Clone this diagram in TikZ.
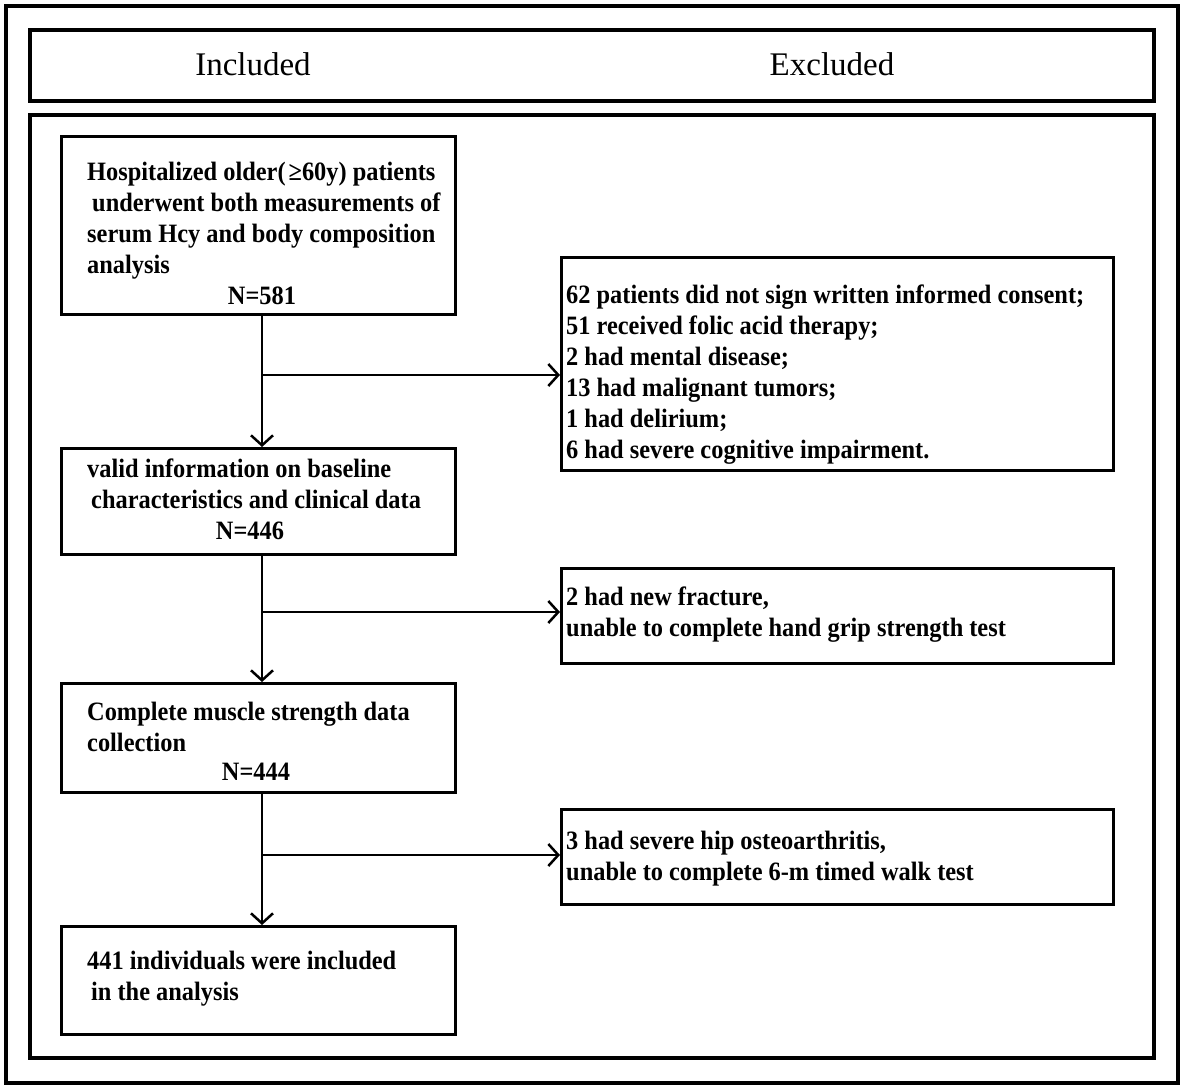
\documentclass[tikz,border=0pt]{standalone}
\usepackage{fontspec}
\setmainfont{Liberation Serif}
\newfontfamily\boxfont[FakeStretch=0.92]{Liberation Serif}
\usetikzlibrary{arrows.meta}
\begin{document}
\begin{tikzpicture}[x=1pt,y=-1pt,
  frame/.style={draw,line width=4pt,inner sep=0pt,anchor=north west},
  boxn/.style={draw,line width=3.2pt,inner sep=0pt,anchor=north west},
  txt/.style={inner sep=0pt,anchor=north west,align=left,font=\boxfont\bfseries\fontsize{26.5}{31}\selectfont},
  ntxt/.style={inner sep=0pt,anchor=base,font=\boxfont\bfseries\fontsize{26.5}{31}\selectfont},
  head/.style={inner sep=0pt,anchor=base,font=\fontsize{33}{40}\selectfont},
  line/.style={line width=2.5pt},
  conn/.style={line width=2.5pt,-{Straight Barb[length=10pt,width=22pt,line width=2.5pt]}}]
\useasboundingbox (0,0) rectangle (1180,1086);
% frames
\node[frame,minimum width=1172pt,minimum height=1077pt] (outer) at (4,4) {};
\node[frame,minimum width=1124pt,minimum height=71pt] (header) at (28,28) {};
\node[frame,minimum width=1124pt,minimum height=943pt] (main) at (28,113) {};
\node[head] (inc) at (253,76) {Included};
\node[head] (exc) at (832,76) {Excluded};
% left boxes
\node[boxn,minimum width=394pt,minimum height=178pt] (b1) at (60,135) {};
\node[boxn,minimum width=394pt,minimum height=106pt] (b2) at (60,447) {};
\node[boxn,minimum width=394pt,minimum height=109pt] (b3) at (60,682) {};
\node[boxn,minimum width=394pt,minimum height=108pt] (b4) at (60,925) {};
% right boxes
\node[boxn,minimum width=552pt,minimum height=213pt] (e1) at (560,256) {};
\node[boxn,minimum width=552pt,minimum height=95pt] (e2) at (560,567) {};
\node[boxn,minimum width=552pt,minimum height=95pt] (e3) at (560,808) {};
% texts
\node[txt] (b1t) at (87,180-21.7) {\strut Hospitalized older(\hspace{3pt}≥60y) patients\\
\strut\hspace*{5pt}underwent both measurements of\\
\strut serum Hcy and body composition\\
\strut analysis};
\node[ntxt] (b1n) at (262,304) {N=581};
\node[txt] (b2t) at (87,477-21.7) {\strut valid information on baseline\\
\strut\hspace*{4pt}characteristics and clinical data};
\node[ntxt] (b2n) at (250,539) {N=446};
\node[txt] (b3t) at (87,720-21.7) {\strut Complete muscle strength data\\
\strut collection};
\node[ntxt] (b3n) at (256,780) {N=444};
\node[txt] (b4t) at (87,969-21.7) {\strut 441 individuals were included\\
\strut\hspace*{4pt}in the analysis};
\node[txt] (e1t) at (566,303-21.7) {\strut 62 patients did not sign written informed consent;\\
\strut 51 received folic acid therapy;\\
\strut 2 had mental disease;\\
\strut 13 had malignant tumors;\\
\strut 1 had delirium;\\
\strut 6 had severe cognitive impairment.};
\node[txt] (e2t) at (566,605-21.7) {\strut 2 had new fracture,\\
\strut unable to complete hand grip strength test};
\node[txt] (e3t) at (566,849-21.7) {\strut 3 had severe hip osteoarthritis,\\
\strut unable to complete 6-m timed walk test};
% connectors
\coordinate (j1) at (262,375);
\coordinate (j2) at (262,612);
\coordinate (j3) at (262,855);
\draw[line] (j1 |- b1.south) -- (j1);
\draw[conn] (j1) -- (j1 |- b2.north);
\draw[conn] (j1) -- (j1 -| e1.west);
\draw[line] (j2 |- b2.south) -- (j2);
\draw[conn] (j2) -- (j2 |- b3.north);
\draw[conn] (j2) -- (j2 -| e2.west);
\draw[line] (j3 |- b3.south) -- (j3);
\draw[conn] (j3) -- (j3 |- b4.north);
\draw[conn] (j3) -- (j3 -| e3.west);
\end{tikzpicture}
\end{document}
